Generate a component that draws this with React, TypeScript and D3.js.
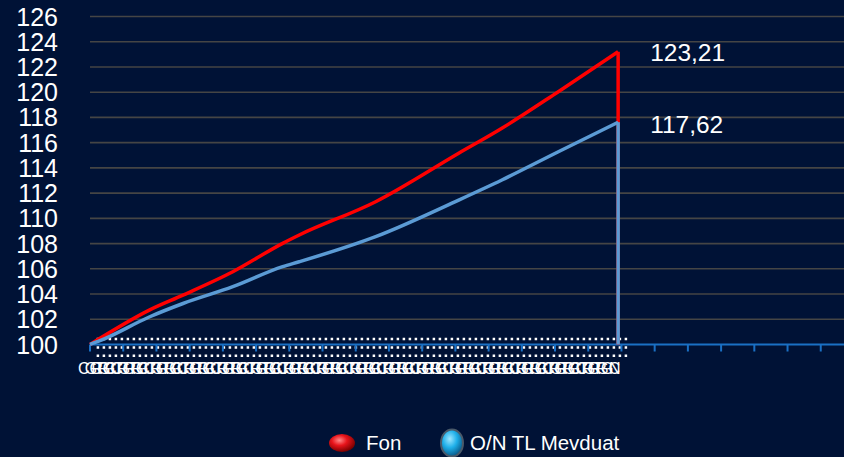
import * as d3 from 'd3'

// category slots on the x axis (data points + empty tail)
const SLOT_COUNT = 227
const TICK_EVERY = 10

const pointSlots = [0, 3, 18, 28, 43, 58, 63, 86, 111, 124, 141, 159]
const fonValues = [100, 100.49, 102.75, 103.92, 105.77, 108.02, 108.68, 111.32, 115.16, 117.14, 120.04, 123.21]
const onValues = [100, 100.3, 102.2, 103.25, 104.58, 106.17, 106.56, 108.55, 111.45, 113.04, 115.28, 117.62]

const yTicks = [100, 102, 104, 106, 108, 110, 112, 114, 116, 118, 120, 122, 124, 126]
const dottedLevels = [100.44, 99.77, 99.1]
const xLabelTexts = ['CG', 'GR', 'RG', 'GC', 'CR']

const W = 844, H = 457
const BG = '#001236'
const RED = '#ff0000'
const BLUE = '#5b9bd5'

export default function App() {
  const x = d3.scaleLinear([0, SLOT_COUNT], [90, 844])
  const y = d3.scaleLinear([100, 126], [344.5, 16.5])

  const pts = pointSlots.map((s, i) => ({ s, fon: fonValues[i], on: onValues[i] }))
  const last = pts[pts.length - 1]

  const fonLine = d3.line<typeof pts[0]>().x(d => x(d.s)).y(d => y(d.fon)).curve(d3.curveMonotoneX)
  const onLine = d3.line<typeof pts[0]>().x(d => x(d.s)).y(d => y(d.on)).curve(d3.curveMonotoneX)

  const ticks = d3.range(0, SLOT_COUNT, TICK_EVERY)
  const labelSlots = d3.range(0, last.s + 1, 2)

  return (
    <svg width={W} height={H} style={{ position: 'absolute', left: 0, top: 0, background: BG }}
      fontFamily="Liberation Sans, Arial, sans-serif">
      <defs>
        <radialGradient id="redBall" cx="40%" cy="35%" r="65%">
          <stop offset="0%" stopColor="#ff8a8a" />
          <stop offset="45%" stopColor="#e8141b" />
          <stop offset="100%" stopColor="#7a0000" />
        </radialGradient>
        <radialGradient id="blueBall" cx="40%" cy="35%" r="65%">
          <stop offset="0%" stopColor="#9fe6ff" />
          <stop offset="50%" stopColor="#1fb0ea" />
          <stop offset="100%" stopColor="#0a5c8c" />
        </radialGradient>
      </defs>
      <rect width={W} height={H} fill={BG} />

      {/* gridlines */}
      {yTicks.filter(t => t > 100).map(t => (
        <line key={t} x1={90} x2={844} y1={y(t)} y2={y(t)} stroke="#454545" strokeWidth={1.6} />
      ))}

      {/* y labels */}
      {yTicks.map(t => (
        <text key={t} x={58} y={y(t)} dy="0.36em" textAnchor="end" fill="#fff" fontSize={25}>{t}</text>
      ))}

      {/* dotted lines */}
      {dottedLevels.map(v => (
        <line key={v} x1={x(2)} x2={x(162)} y1={y(v)} y2={y(v)} stroke="#fff" strokeWidth={2.5} strokeDasharray="2.5,3.5" />
      ))}

      {/* x axis */}
      <line x1={90} x2={844} y1={y(100)} y2={y(100)} stroke="#1a70c4" strokeWidth={2} />
      {ticks.map(t => (
        <line key={t} x1={x(t)} x2={x(t)} y1={y(100)} y2={y(100) + 7} stroke="#1a70c4" strokeWidth={2} />
      ))}

      {/* category labels (overlapping) */}
      {labelSlots.map((s, i) => (
        <text key={s} x={x(s)} y={374} textAnchor="middle" fill="#fff" fontSize={16}>
          {s === labelSlots[labelSlots.length - 1] ? 'N' : xLabelTexts[i % xLabelTexts.length]}
        </text>
      ))}

      {/* series */}
      <path d={fonLine(pts) ?? ''} fill="none" stroke={RED} strokeWidth={3.5} strokeLinejoin="round" />
      <line x1={x(last.s)} x2={x(last.s)} y1={y(last.fon)} y2={y(100)} stroke={RED} strokeWidth={3.5} />
      <path d={onLine(pts) ?? ''} fill="none" stroke={BLUE} strokeWidth={3.5} strokeLinejoin="round" />
      <line x1={x(last.s)} x2={x(last.s)} y1={y(last.on)} y2={y(100)} stroke={BLUE} strokeWidth={3.5} />

      {/* end value labels */}
      <text x={x(last.s) + 32} y={y(last.fon)} dy="0.36em" fill="#fff" fontSize={24.5}>
        {last.fon.toFixed(2).replace('.', ',')}
      </text>
      <text x={x(last.s) + 32} y={y(last.on) + 2} dy="0.36em" fill="#fff" fontSize={24.5}>
        {last.on.toFixed(2).replace('.', ',')}
      </text>

      {/* legend */}
      <ellipse cx={342} cy={443} rx={13} ry={9} fill="url(#redBall)" />
      <text x={366} y={443} dy="0.36em" fill="#fff" fontSize={20.5}>Fon</text>
      <ellipse cx={452} cy={443} rx={11} ry={13.5} fill="url(#blueBall)" stroke="#4a5a6a" strokeWidth={2} />
      <text x={470} y={443} dy="0.36em" fill="#fff" fontSize={20.5}>O/N TL Mevduat</text>
    </svg>
  )
}
